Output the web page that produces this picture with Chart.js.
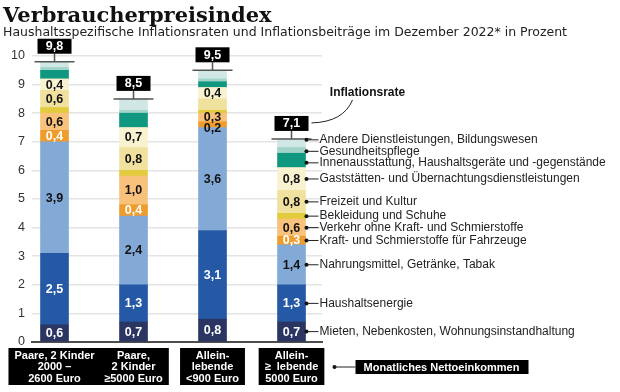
<!DOCTYPE html>
<html lang="de">
<head>
<meta charset="utf-8">
<title>Verbraucherpreisindex</title>
<script src="https://cdn.jsdelivr.net/npm/chart.js@4/dist/chart.umd.min.js"></script>
<style>
  html, body { margin: 0; padding: 0; background: #fff; }
  #wrap { width: 620px; height: 392px; }
</style>
</head>
<body>
<div id="wrap"><canvas id="cpiChart" width="620" height="392"></canvas></div>
<script>
// Haushaltstypen, von links nach rechts
var households = [
    ['Paare, 2 Kinder', '2000 –', '2600 Euro'],
    ['Paare,', '2 Kinder', '≥5000 Euro'],
    ['Allein-', 'lebende', '<900 Euro'],
    ['Allein-', '≥  lebende', '5000 Euro']
];

// Inflationsrate je Haushalt (Prozent)
var inflationRates = [9.8, 8.5, 9.5, 7.1];

// Inflationsbeiträge (Prozentpunkte), von unten nach oben gestapelt
var mieten        = [0.6, 0.7, 0.8, 0.7];
var energie       = [2.5, 1.3, 3.1, 1.3];
var nahrung       = [3.9, 2.4, 3.6, 1.4];
var kraftstoffe   = [0.4, 0.4, 0.2, 0.3];
var verkehr       = [0.6, 1.0, 0.3, 0.6];
var bekleidung    = [0.2, 0.2, 0.1, 0.2];
var freizeit      = [0.6, 0.8, 0.4, 0.8];
var gaststaetten  = [0.4, 0.7, 0.4, 0.8];
var innen         = [0.3, 0.5, 0.2, 0.5];
var gesundheit    = [0.1, 0.1, 0.1, 0.2];
var andere        = [0.2, 0.4, 0.3, 0.3];

var seriesNames = [
    'Mieten, Nebenkosten, Wohnungsinstandhaltung',
    'Haushaltsenergie',
    'Nahrungsmittel, Getränke, Tabak',
    'Kraft- und Schmierstoffe für Fahrzeuge',
    'Verkehr ohne Kraft- und Schmierstoffe',
    'Bekleidung und Schuhe',
    'Freizeit und Kultur',
    'Gaststätten- und Übernachtungsdienstleistungen',
    'Innenausstattung, Haushaltsgeräte und -gegenstände',
    'Gesundheitspflege',
    'Andere Dienstleistungen, Bildungswesen'
];
var seriesValues = [mieten, energie, nahrung, kraftstoffe, verkehr, bekleidung,
    freizeit, gaststaetten, innen, gesundheit, andere];

// which segments get a printed number (series index -> bars)
var printedBars = [
    [0, 1, 2, 3], [0, 1, 2, 3], [0, 1, 2, 3], [0, 1, 2, 3], [0, 1, 2, 3],
    [], [0, 1, 3], [0, 1, 2, 3], [], [], []
];

var colors = ['#2b3561', '#2659a5', '#83a9d7', '#ee9c2b', '#f8c17c', '#e3cb3e',
    '#f0e29e', '#f9f2d0', '#10977f', '#a2d4c9', '#d0e7e5'];
var whiteText = [true, true, false, true, false, false, false, false, false, false, false];

var SANS = '"Liberation Sans", Arial, sans-serif';
var fmt = function (v) { return v.toFixed(1).replace('.', ','); };

var datasets = seriesValues.map(function (vals, s) {
    return {
        label: seriesNames[s],
        data: vals.map(function (v, i) { return { x: i, y: v }; }),
        backgroundColor: colors[s],
        borderWidth: 0,
        barThickness: 28
    };
});

var cpiOverlay = {
    id: 'cpiOverlay',
    beforeDraw: function (chart) {
        var ctx = chart.ctx, x = chart.scales.x;
        ctx.save();
        ctx.fillStyle = '#111';
        ctx.textBaseline = 'alphabetic';
        ctx.font = 'bold 21px "DejaVu Serif", serif';
        ctx.fillText('Verbraucherpreisindex', 3, 22);
        ctx.fillStyle = '#222';
        ctx.font = '12.5px "DejaVu Sans", sans-serif';
        ctx.fillText('Haushaltsspezifische Inflationsraten und Inflationsbeiträge im Dezember 2022* in Prozent', 3, 36);

        // black boxes behind the household labels
        ctx.font = 'bold 11px ' + SANS;
        ctx.fillStyle = '#000';
        households.forEach(function (lines, i) {
            var w = Math.max.apply(null, lines.map(function (l) { return ctx.measureText(l).width; }));
            var cx = x.getPixelForValue(i);
            ctx.fillRect(cx - w / 2 - 6, x.top + 6, w + 12, 37);
        });
        ctx.restore();
    },
    afterDatasetsDraw: function (chart) {
        var ctx = chart.ctx, x = chart.scales.x, y = chart.scales.y;
        ctx.save();

        // numbers inside the segments
        ctx.font = 'bold 12.5px ' + SANS;
        ctx.textAlign = 'center';
        ctx.textBaseline = 'middle';
        households.forEach(function (h, i) {
            var prev = -Infinity;
            for (var s = seriesValues.length - 1; s >= 0; s--) {
                if (printedBars[s].indexOf(i) < 0) continue;
                var el = chart.getDatasetMeta(s).data[i];
                var cy = (el.y + el.base) / 2;
                var ly = Math.max(cy, prev + 10.5);
                ctx.fillStyle = (whiteText[s] && ly - cy < 2) ? '#fff' : '#111';
                ctx.fillText(fmt(seriesValues[s][i]), el.x, ly + 0.5);
                prev = ly;
            }
        });

        // total inflation rate: whisker + black box
        var last = inflationRates.length - 1;
        inflationRates.forEach(function (rate, i) {
            var cx = chart.getDatasetMeta(0).data[i].x;
            var top = y.getPixelForValue(rate);
            ctx.strokeStyle = '#555';
            ctx.lineWidth = 1.5;
            ctx.beginPath();
            ctx.moveTo(cx - 20, top); ctx.lineTo(cx + 20, top);
            ctx.moveTo(cx, top); ctx.lineTo(cx, top - 8);
            ctx.stroke();
            ctx.fillStyle = '#000';
            ctx.fillRect(cx - 17, top - 23, 34, 15);
            ctx.fillStyle = '#fff';
            ctx.fillText(fmt(rate), cx, top - 15);
        });

        // "Inflationsrate" annotation on the last bar
        var c4 = chart.getDatasetMeta(0).data[last].x;
        var t4 = y.getPixelForValue(inflationRates[last]);
        ctx.strokeStyle = '#222';
        ctx.lineWidth = 1;
        ctx.beginPath();
        ctx.moveTo(c4 + 20, t4 - 16);
        ctx.quadraticCurveTo(c4 + 52, t4 - 17, c4 + 61, t4 - 39);
        ctx.stroke();
        ctx.fillStyle = '#111';
        ctx.font = 'bold 12px ' + SANS;
        ctx.fillText('Inflationsrate', c4 + 76, t4 - 46);

        // legend labels next to the last bar
        var centers = [];
        for (var s = seriesValues.length - 1; s >= 0; s--) {
            var el = chart.getDatasetMeta(s).data[last];
            centers.push({ s: s, y: (el.y + el.base) / 2, edge: el.x + el.width / 2 });
        }
        var gap = 11.5;
        for (var k = 0; k < 80; k++) {
            for (var j = 0; j < centers.length - 1; j++) {
                var d = centers[j + 1].y - centers[j].y;
                if (d < gap) {
                    centers[j].y -= (gap - d) / 2;
                    centers[j + 1].y += (gap - d) / 2;
                }
            }
        }
        ctx.font = '12px ' + SANS;
        ctx.textAlign = 'left';
        centers.forEach(function (c) {
            ctx.fillStyle = '#111';
            ctx.beginPath();
            ctx.arc(c.edge + 1, c.y, 2, 0, Math.PI * 2);
            ctx.fill();
            ctx.strokeStyle = '#222';
            ctx.beginPath();
            ctx.moveTo(c.edge + 1, c.y); ctx.lineTo(c.edge + 13, c.y);
            ctx.stroke();
            ctx.fillStyle = '#222';
            ctx.fillText(seriesNames[c.s], c.edge + 14, c.y);
        });

        // "Monatliches Nettoeinkommen" tag
        var my = x.top + 25;
        var bx = x.getPixelForValue(last) + 43;
        ctx.fillStyle = '#111';
        ctx.beginPath();
        ctx.arc(bx, my, 2, 0, Math.PI * 2);
        ctx.fill();
        ctx.beginPath();
        ctx.moveTo(bx, my); ctx.lineTo(bx + 21, my);
        ctx.stroke();
        ctx.fillStyle = '#000';
        ctx.fillRect(bx + 21, my - 7, 173, 14);
        ctx.fillStyle = '#fff';
        ctx.font = 'bold 11px ' + SANS;
        ctx.textAlign = 'center';
        ctx.fillText('Monatliches Nettoeinkommen', bx + 107, my + 0.5);
        ctx.restore();
    }
};

var chart = new Chart(document.getElementById('cpiChart'), {
    type: 'bar',
    data: { datasets: datasets },
    options: {
        responsive: false,
        animation: false,
        layout: { padding: { left: 0, right: 298, top: 56, bottom: 4 } },
        plugins: {
            legend: { display: false },
            tooltip: { enabled: false }
        },
        scales: {
            x: {
                type: 'linear',
                stacked: true,
                offset: false,
                min: -0.285,
                max: 3.386,
                afterBuildTicks: function (scale) {
                    scale.ticks = households.map(function (h, i) { return { value: i }; });
                },
                afterFit: function (scale) { scale.height = 46; },
                ticks: {
                    autoSkip: false,
                    maxRotation: 0,
                    padding: 8,
                    color: '#fff',
                    font: { family: SANS, size: 11, weight: 'bold', lineHeight: 1.05 },
                    callback: function (v) { return households[v]; }
                },
                grid: { display: false, drawTicks: false, tickLength: 0, offset: false },
                border: { color: '#4d4d4d', width: 2 }
            },
            y: {
                stacked: true,
                min: 0,
                max: 10,
                afterFit: function (scale) { scale.width = 32; },
                ticks: {
                    stepSize: 1,
                    padding: 7,
                    color: '#333',
                    font: { family: SANS, size: 12.5 }
                },
                grid: { color: '#e4e4e4', lineWidth: 1.5, drawTicks: false },
                border: { display: false }
            }
        }
    },
    plugins: [cpiOverlay]
});
</script>
</body>
</html>
